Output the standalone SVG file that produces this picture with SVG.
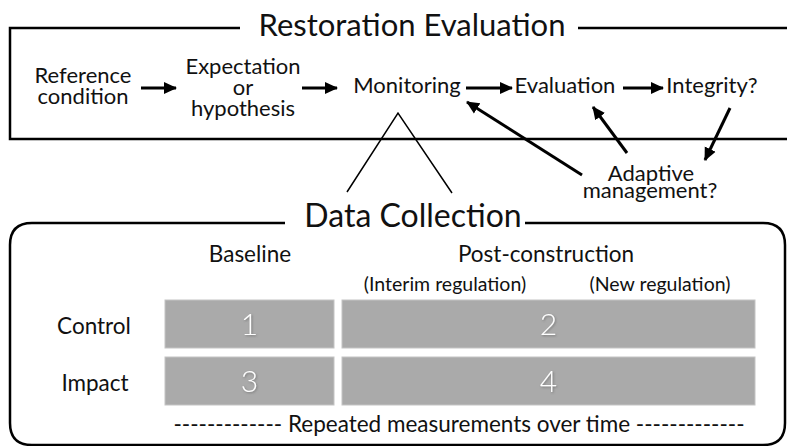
<svg xmlns="http://www.w3.org/2000/svg" width="787" height="446" viewBox="0 0 787 446">
  <defs>
    <marker id="head" markerUnits="userSpaceOnUse" markerWidth="14" markerHeight="14" refX="12" refY="7" orient="auto">
      <path d="M0,1 L13,7 L0,13 z" fill="#000"/>
    </marker>
    <filter id="shadow" x="-20%" y="-20%" width="140%" height="140%">
      <feDropShadow dx="1" dy="1" stdDeviation="1" flood-color="#555" flood-opacity="0.6"/>
    </filter>
  </defs>
  <style>
    text { font-family: Lato, "Open Sans", "DejaVu Sans", sans-serif; fill: #111; text-anchor: middle; }
    .title { font-size: 31px; }
    .title2 { font-size: 32px; }
    .step { font-size: 22px; }
    .head { font-size: 22.5px; }
    .sub { font-size: 19.5px; }
    .foot { font-size: 22.5px; }
    .cell { fill: #aaaaaa; stroke: #c4c4c4; stroke-width: 1; }
    .num { font-size: 30px; fill: #fff; font-weight: 300; filter: url(#shadow); }
    .frame { fill: none; stroke: #000; stroke-width: 2.5; }
    .arrow { fill: none; stroke: #000; stroke-width: 3; marker-end: url(#head); }
    .thin { fill: none; stroke: #000; stroke-width: 1.5; }
  </style>

  <!-- Restoration Evaluation frame -->
  <g id="restoration-evaluation">
    <path class="frame" d="M240,28 H10 V139 H790 M578,28 H790"/>
    <text class="title" x="412" y="36">Restoration Evaluation</text>
  </g>

  <!-- flow steps -->
  <g id="reference-condition">
    <text class="step"><tspan x="83" y="83">Reference</tspan><tspan x="83" y="104">condition</tspan></text>
  </g>
  <g id="expectation">
    <text class="step"><tspan x="243" y="74">Expectation</tspan><tspan x="243" y="95">or</tspan><tspan x="243" y="116">hypothesis</tspan></text>
  </g>
  <g id="monitoring">
    <text class="step" x="407" y="93">Monitoring</text>
  </g>
  <g id="evaluation">
    <text class="step" x="565" y="93">Evaluation</text>
  </g>
  <g id="integrity">
    <text class="step" x="712" y="93">Integrity?</text>
  </g>
  <g id="adaptive-management">
    <text class="step"><tspan x="651" y="181">Adaptive</tspan><tspan x="650" y="198">management?</tspan></text>
  </g>

  <!-- connectors -->
  <g id="connectors">
    <line class="arrow" x1="141" y1="88" x2="176" y2="88"/>
    <line class="arrow" x1="302" y1="88" x2="337" y2="88"/>
    <line class="arrow" x1="466" y1="88" x2="512" y2="88"/>
    <line class="arrow" x1="623" y1="88" x2="663" y2="88"/>
    <line class="arrow" x1="582" y1="175" x2="467" y2="102"/>
    <line class="arrow" x1="627" y1="153" x2="593" y2="107"/>
    <line class="arrow" x1="730" y1="108" x2="705" y2="160"/>
    <polyline class="thin" points="347,192 398,113 452,193"/>
  </g>

  <!-- Data Collection frame -->
  <g id="data-collection">
    <path class="frame" stroke-width="2" d="M285,223 H32 Q10,223 10,245 V423 Q10,445 32,445 H763 Q785,445 785,423 V245 Q785,223 763,223 H525"/>
    <text class="title2" x="413" y="227">Data Collection</text>
  </g>

  <!-- column and row headings -->
  <g id="col-baseline"><text class="head" x="250" y="262">Baseline</text></g>
  <g id="col-post"><text class="head" x="546" y="262">Post-construction</text></g>
  <g id="col-interim"><text class="sub" x="445" y="291">(Interim regulation)</text></g>
  <g id="col-new"><text class="sub" x="660" y="291">(New regulation)</text></g>
  <g id="row-control"><text class="head" x="94" y="334">Control</text></g>
  <g id="row-impact"><text class="head" x="95" y="391">Impact</text></g>

  <!-- grid cells -->
  <g id="cell-1">
    <rect class="cell" x="165" y="300" width="169" height="48"/>
    <text class="num" x="249.5" y="335">1</text>
  </g>
  <g id="cell-2">
    <rect class="cell" x="342" y="300" width="413" height="48"/>
    <text class="num" x="548.5" y="335">2</text>
  </g>
  <g id="cell-3">
    <rect class="cell" x="165" y="357" width="169" height="48"/>
    <text class="num" x="249.5" y="392">3</text>
  </g>
  <g id="cell-4">
    <rect class="cell" x="342" y="357" width="413" height="48"/>
    <text class="num" x="548.5" y="392">4</text>
  </g>

  <g id="footer">
    <text class="foot" x="459" y="432">------------- Repeated measurements over time -------------</text>
  </g>
</svg>
